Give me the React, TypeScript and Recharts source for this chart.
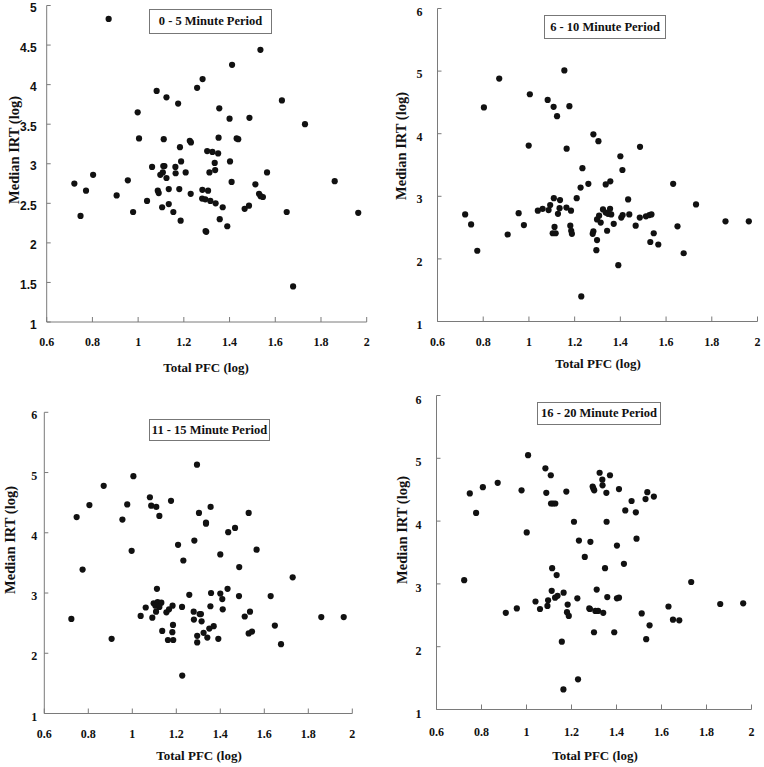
import { ScatterChart, Scatter, XAxis, YAxis } from 'recharts'

const xTicks = [0.6, 0.8, 1, 1.2, 1.4, 1.6, 1.8, 2]
const yTicksFine = [1, 1.5, 2, 2.5, 3, 3.5, 4, 4.5, 5]
const yTicks = [1, 2, 3, 4, 5, 6]

// [Total PFC (log), Median IRT (log)]
const period1: [number, number][] = [
  [0.871, 4.83], [1.535, 4.44], [1.411, 4.25], [1.282, 4.07], [1.258, 3.96], [1.081, 3.92],
  [1.124, 3.84], [1.175, 3.76], [1.629, 3.8], [1.355, 3.7], [0.998, 3.65], [1.4, 3.57],
  [1.487, 3.58], [1.73, 3.5], [1.004, 3.32], [1.112, 3.31], [1.226, 3.29], [1.231, 3.27],
  [1.352, 3.33], [1.431, 3.32], [1.438, 3.31], [1.183, 3.21], [1.302, 3.16], [1.325, 3.15],
  [1.35, 3.13], [1.402, 3.03], [1.335, 3.01], [1.337, 2.92], [1.312, 2.89], [1.188, 3.03],
  [1.11, 2.97], [1.115, 2.97], [1.163, 2.96], [1.061, 2.96], [1.108, 2.89], [1.097, 2.86],
  [1.164, 2.88], [1.208, 2.89], [1.124, 2.82], [0.803, 2.86], [0.721, 2.75], [0.772, 2.66],
  [0.955, 2.79], [0.906, 2.6], [0.748, 2.34], [0.978, 2.39], [1.039, 2.53], [1.086, 2.66],
  [1.09, 2.63], [1.134, 2.68], [1.18, 2.68], [1.23, 2.62], [1.134, 2.49], [1.105, 2.45],
  [1.154, 2.39], [1.186, 2.28], [1.281, 2.67], [1.306, 2.66], [1.28, 2.56], [1.294, 2.55],
  [1.316, 2.53], [1.339, 2.5], [1.37, 2.45], [1.357, 2.3], [1.39, 2.21], [1.295, 2.15],
  [1.298, 2.14], [1.409, 2.77], [1.564, 2.89], [1.513, 2.74], [1.529, 2.62], [1.536, 2.59],
  [1.546, 2.58], [1.485, 2.47], [1.466, 2.43], [1.65, 2.39], [1.86, 2.78], [1.963, 2.38],
  [1.678, 1.45],
]

const period2: [number, number][] = [
  [1.155, 5.01], [0.87, 4.88], [1.004, 4.63], [1.082, 4.54], [0.803, 4.42], [1.108, 4.43],
  [1.177, 4.44], [1.123, 4.28], [1.282, 3.99], [1.304, 3.88], [0.999, 3.81], [1.165, 3.76],
  [1.486, 3.79], [1.4, 3.64], [1.234, 3.45], [1.409, 3.42], [1.356, 3.24], [1.336, 3.19],
  [1.26, 3.2], [1.226, 3.14], [1.631, 3.2], [1.209, 2.97], [1.109, 2.97], [1.136, 2.94],
  [1.434, 2.95], [1.731, 2.87], [1.093, 2.86], [1.134, 2.81], [1.164, 2.82], [1.184, 2.77],
  [1.06, 2.8], [1.086, 2.78], [1.039, 2.77], [1.127, 2.72], [0.955, 2.73], [0.721, 2.71],
  [0.747, 2.55], [0.978, 2.54], [0.907, 2.39], [0.774, 2.13], [1.112, 2.51], [1.104, 2.41],
  [1.117, 2.41], [1.181, 2.53], [1.185, 2.45], [1.188, 2.4], [1.324, 2.79], [1.355, 2.8],
  [1.336, 2.74], [1.346, 2.72], [1.36, 2.71], [1.307, 2.69], [1.298, 2.63], [1.314, 2.58],
  [1.371, 2.56], [1.342, 2.45], [1.282, 2.44], [1.279, 2.4], [1.298, 2.3], [1.295, 2.14],
  [1.391, 1.9], [1.229, 1.4], [1.404, 2.66], [1.41, 2.7], [1.439, 2.71], [1.485, 2.66],
  [1.512, 2.68], [1.527, 2.7], [1.536, 2.71], [1.467, 2.53], [1.546, 2.41], [1.531, 2.27],
  [1.566, 2.23], [1.65, 2.52], [1.677, 2.09], [1.86, 2.6], [1.962, 2.6],
]

const period3: [number, number][] = [
  [1.294, 5.13], [1.005, 4.94], [0.87, 4.78], [1.08, 4.59], [1.176, 4.53], [0.805, 4.46],
  [0.977, 4.47], [1.086, 4.45], [1.109, 4.43], [1.356, 4.43], [0.747, 4.26], [0.955, 4.22],
  [1.123, 4.28], [1.303, 4.33], [1.529, 4.33], [1.335, 4.17], [1.335, 4.15], [1.436, 4.01],
  [1.467, 4.08], [1.208, 3.8], [1.282, 3.87], [0.997, 3.7], [1.4, 3.64], [1.565, 3.72],
  [1.232, 3.54], [1.486, 3.43], [0.774, 3.39], [1.729, 3.26], [1.112, 3.07], [1.259, 2.97],
  [1.358, 3.0], [1.4, 2.99], [1.433, 3.07], [1.409, 2.9], [1.485, 2.95], [1.629, 2.95],
  [1.097, 2.83], [1.115, 2.85], [1.132, 2.84], [1.105, 2.79], [1.123, 2.77], [1.108, 2.69],
  [1.061, 2.76], [1.038, 2.62], [1.091, 2.59], [1.155, 2.68], [1.167, 2.73], [1.183, 2.79],
  [1.226, 2.77], [1.279, 2.69], [1.306, 2.65], [1.312, 2.65], [1.355, 2.78], [1.411, 2.73],
  [1.28, 2.56], [1.315, 2.53], [1.185, 2.47], [1.136, 2.37], [1.182, 2.35], [1.162, 2.22],
  [1.186, 2.22], [1.295, 2.29], [1.295, 2.18], [1.324, 2.34], [1.341, 2.26], [1.35, 2.41],
  [1.37, 2.45], [1.391, 2.24], [1.511, 2.61], [1.535, 2.69], [1.529, 2.33], [1.544, 2.36],
  [1.648, 2.46], [1.676, 2.15], [0.906, 2.24], [0.723, 2.57], [1.227, 1.63], [1.859, 2.6],
  [1.961, 2.6],
]

const period4: [number, number][] = [
  [1.007, 5.05], [1.084, 4.84], [1.108, 4.73], [0.872, 4.61], [0.806, 4.54], [0.748, 4.44],
  [0.978, 4.49], [1.088, 4.45], [1.177, 4.47], [0.776, 4.13], [1.109, 4.28], [1.118, 4.28],
  [1.128, 4.28], [1.325, 4.77], [1.371, 4.73], [1.337, 4.66], [1.338, 4.57], [1.294, 4.55],
  [1.297, 4.52], [1.301, 4.49], [1.355, 4.45], [1.411, 4.51], [1.537, 4.46], [1.566, 4.39],
  [1.529, 4.35], [1.467, 4.32], [1.439, 4.17], [1.486, 4.14], [1.211, 3.99], [1.356, 3.99],
  [1.001, 3.82], [1.233, 3.69], [1.284, 3.67], [1.489, 3.72], [1.402, 3.61], [1.259, 3.43],
  [1.433, 3.32], [1.349, 3.25], [1.114, 3.25], [1.134, 3.14], [0.723, 3.06], [1.732, 3.03],
  [1.112, 2.89], [1.165, 2.86], [1.312, 2.91], [1.127, 2.78], [1.138, 2.81], [1.096, 2.74],
  [1.04, 2.72], [1.226, 2.77], [1.359, 2.79], [1.402, 2.77], [1.411, 2.78], [1.093, 2.65],
  [1.06, 2.6], [0.957, 2.61], [0.908, 2.54], [1.183, 2.67], [1.18, 2.55], [1.188, 2.49],
  [1.279, 2.61], [1.282, 2.6], [1.306, 2.57], [1.318, 2.57], [1.341, 2.54], [1.3, 2.23],
  [1.39, 2.23], [1.157, 2.08], [1.229, 1.48], [1.164, 1.32], [1.512, 2.53], [1.547, 2.34],
  [1.532, 2.12], [1.631, 2.64], [1.651, 2.43], [1.679, 2.42], [1.861, 2.68], [1.963, 2.69],
]

const AXIS = '#7a7a7a'
const INK = '#111'
const SERIF = '"Liberation Serif", "Times New Roman", serif'
const SANS = '"Liberation Sans", Arial, sans-serif'
const BOX_W = 382
const BOX_H = 384
const AX = 40 // x axis height / y axis width

const panels = [
  {
    title: '0 - 5 Minute Period', data: period1, yMax: 5, yTicks: yTicksFine, yFont: SANS,
    box: [0, 0], plot: { l: 46.7, r: 366.7, t: 5.5, b: 322 },
    xDy: 24, yGap: 10, yDy: 6.5,
    titleBox: { left: 149, top: 9, width: 123, height: 25 },
    xTitle: [206, 368], yTitle: [14, 150],
  },
  {
    title: '6 - 10 Minute Period', data: period2, yMax: 6, yTicks, yFont: SERIF,
    box: [382, 0], plot: { l: 437.5, r: 757.5, t: 8.5, b: 321.5 },
    xDy: 24.5, yGap: 15, yDy: 7,
    titleBox: { left: 544, top: 15, width: 122, height: 24 },
    xTitle: [598, 364], yTitle: [401, 146],
  },
  {
    title: '11 - 15 Minute Period', data: period3, yMax: 6, yTicks, yFont: SERIF,
    box: [0, 384], plot: { l: 44.3, r: 352.3, t: 412.3, b: 713.5 },
    xDy: 24.5, yGap: 7, yDy: 7,
    titleBox: { left: 149, top: 419, width: 121, height: 22 },
    xTitle: [199, 756], yTitle: [10, 540],
  },
  {
    title: '16 - 20 Minute Period', data: period4, yMax: 6, yTicks, yFont: SERIF,
    box: [382, 384], plot: { l: 436.5, r: 751.5, t: 395.5, b: 709.5 },
    xDy: 26.5, yGap: 15, yDy: 8,
    titleBox: { left: 537, top: 402, width: 124, height: 23 },
    xTitle: [595, 756], yTitle: [402, 530],
  },
]

const Dot = (props: any) => <circle cx={props.cx} cy={props.cy} r={3.1} fill={INK} />

function XTick({ x, y, payload, dy }: any) {
  return (
    <g>
      <line x1={x} y1={y} x2={x} y2={y - 5} stroke={AXIS} />
      <text x={x} y={y + dy} textAnchor="middle" fontFamily={SERIF} fontWeight="bold" fontSize={12} fill={INK}>
        {payload.value}
      </text>
    </g>
  )
}

function YTick({ x, y, payload, gap, dy, font }: any) {
  return (
    <g>
      <line x1={x} y1={y} x2={x + 4} y2={y} stroke={AXIS} />
      <text x={x - gap} y={y + dy} textAnchor="end" fontFamily={font} fontWeight="bold" fontSize={12} fill={INK}>
        {payload.value}
      </text>
    </g>
  )
}

function Panel({ p }: { p: (typeof panels)[number] }) {
  const [bx, by] = p.box
  const margin = {
    left: p.plot.l - bx - AX,
    right: bx + BOX_W - p.plot.r,
    top: p.plot.t - by,
    bottom: by + BOX_H - p.plot.b - AX,
  }
  const points = p.data.map(([x, y]) => ({ x, y }))
  return (
    <div style={{ position: 'absolute', left: bx, top: by }}>
      <ScatterChart width={BOX_W} height={BOX_H} margin={margin}>
        <XAxis
          type="number" dataKey="x" domain={[0.6, 2]} ticks={xTicks} interval={0}
          height={AX} tickSize={0} tickMargin={0} axisLine={{ stroke: AXIS }} tickLine={false}
          tick={(t: any) => <XTick {...t} dy={p.xDy} />}
        />
        <YAxis
          type="number" dataKey="y" domain={[1, p.yMax]} ticks={p.yTicks} interval={0}
          width={AX} tickSize={0} tickMargin={0} axisLine={{ stroke: AXIS }} tickLine={false}
          tick={(t: any) => <YTick {...t} gap={p.yGap} dy={p.yDy} font={p.yFont} />}
        />
        <Scatter data={points} shape={Dot} isAnimationActive={false} />
      </ScatterChart>
    </div>
  )
}

const label: React.CSSProperties = {
  position: 'absolute', fontFamily: SERIF, fontWeight: 'bold', color: INK, whiteSpace: 'nowrap',
}

export default function App() {
  return (
    <div style={{ position: 'absolute', left: 0, top: 0, width: 764, height: 767, background: '#fff', overflow: 'hidden' }}>
      {panels.map(p => (
        <Panel key={p.title} p={p} />
      ))}
      {panels.map(p => (
        <div key={p.title + '-t'}>
          <div
            style={{
              ...label, ...p.titleBox, boxSizing: 'border-box', border: '1px solid #777',
              background: '#fff', fontSize: 12.5, lineHeight: `${p.titleBox.height - 2}px`, textAlign: 'center',
            }}
          >
            {p.title}
          </div>
          <div style={{ ...label, left: p.xTitle[0], top: p.xTitle[1], fontSize: 13, transform: 'translate(-50%, -50%)' }}>
            Total PFC (log)
          </div>
          <div
            style={{
              ...label, left: p.yTitle[0], top: p.yTitle[1], fontSize: 14.5,
              transform: 'translate(-50%, -50%) rotate(-90deg)',
            }}
          >
            Median IRT (log)
          </div>
        </div>
      ))}
    </div>
  )
}
